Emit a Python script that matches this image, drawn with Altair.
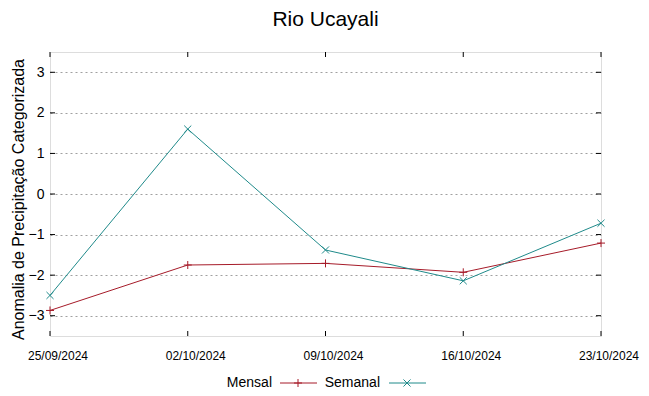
import altair as alt
import pandas as pd

dates = ["25/09/2024", "02/10/2024", "09/10/2024", "16/10/2024", "23/10/2024"]
mensal = [-2.87, -1.75, -1.71, -1.93, -1.21]
semanal = [-2.50, 1.60, -1.38, -2.14, -0.72]
y_ticks = [-3, -2, -1, 0, 1, 2, 3]

RED = "#a61b29"
TEAL = "#1f8a8a"
W, H = 551, 284
FONT = "Liberation Sans"

idx = list(range(len(dates)))
df = pd.DataFrame({"idx": idx * 2,
                   "value": mensal + semanal,
                   "serie": ["Mensal"] * len(dates) + ["Semanal"] * len(dates)})

xs = alt.Scale(domain=[0, len(dates) - 1], nice=False, zero=False)
ys = alt.Scale(domain=[-3.5, 3.5], nice=False, zero=False)

x_enc = alt.X("idx:Q", scale=xs,
              axis=alt.Axis(values=idx, title=None, grid=False, labels=False,
                            ticks=False, domain=False))
y_enc = alt.Y("value:Q", scale=ys,
              axis=alt.Axis(values=y_ticks, title="Anomalia de Precipitação Categorizada",
                            grid=True, gridDash=[2, 3], gridColor="#a0a0a0", gridWidth=1,
                            ticks=False, domain=False, labelPadding=6,
                            labelFont=FONT, labelFontSize=14, labelColor="#000",
                            titleFont=FONT, titleFontSize=16, titleFontWeight="normal",
                            titleColor="#000", titleX=-24, titleY=147, titleAngle=-90,
                            titleBaseline="bottom"))

color = alt.Color("serie:N", scale=alt.Scale(domain=["Mensal", "Semanal"], range=[RED, TEAL]),
                  legend=None)

lines = alt.Chart(df).mark_line(strokeWidth=1).encode(x=x_enc, y=y_enc, color=color)

PLUS = "M-1,0L1,0M0,-1L0,1"
CROSS = "M-1,-1L1,1M-1,1L1,-1"

pts_m = alt.Chart(df[df.serie == "Mensal"]).mark_point(
    shape=PLUS, filled=False, size=64, strokeWidth=1, color=RED, opacity=1
).encode(x="idx:Q", y="value:Q")
pts_s = alt.Chart(df[df.serie == "Semanal"]).mark_point(
    shape=CROSS, filled=False, size=50, strokeWidth=1, color=TEAL, opacity=1
).encode(x="idx:Q", y="value:Q")

# x tick labels (shifted right like the original)
xt = pd.DataFrame({"idx": idx, "lab": dates})
x_labels = alt.Chart(xt).mark_text(
    font=FONT, fontSize=12, color="#000", align="center", baseline="alphabetic", dx=8
).encode(x="idx:Q", y=alt.value(H + 24), text="lab:N")

# inward ticks (mirrored, gnuplot style)
yt = pd.DataFrame({"v": y_ticks})
tick_b = alt.Chart(xt).mark_rule(color="#000", strokeWidth=1).encode(
    x="idx:Q", y=alt.value(H), y2=alt.value(H - 5))
tick_t = alt.Chart(xt).mark_rule(color="#000", strokeWidth=1).encode(
    x="idx:Q", y=alt.value(0), y2=alt.value(5))
tick_l = alt.Chart(yt).mark_rule(color="#000", strokeWidth=1).encode(
    y="v:Q", x=alt.value(0), x2=alt.value(5))
tick_r = alt.Chart(yt).mark_rule(color="#000", strokeWidth=1).encode(
    y="v:Q", x=alt.value(W), x2=alt.value(W - 5))

# legend
leg_y = 331
leg_text_m = alt.Chart(pd.DataFrame({"t": ["Mensal"]})).mark_text(
    align="right", baseline="middle", font=FONT, fontSize=14, color="#000"
).encode(text="t:N", x=alt.value(222), y=alt.value(leg_y))
leg_line_m = alt.Chart(pd.DataFrame({"a": [0]})).mark_rule(color=RED, strokeWidth=1).encode(
    x=alt.value(230), x2=alt.value(267), y=alt.value(leg_y))
leg_pt_m = alt.Chart(pd.DataFrame({"a": [0]})).mark_point(
    shape=PLUS, filled=False, size=64, strokeWidth=1, color=RED, opacity=1
).encode(x=alt.value(248), y=alt.value(leg_y))
leg_text_s = alt.Chart(pd.DataFrame({"t": ["Semanal"]})).mark_text(
    align="right", baseline="middle", font=FONT, fontSize=14, color="#000"
).encode(text="t:N", x=alt.value(330), y=alt.value(leg_y))
leg_line_s = alt.Chart(pd.DataFrame({"a": [0]})).mark_rule(color=TEAL, strokeWidth=1).encode(
    x=alt.value(339), x2=alt.value(376), y=alt.value(leg_y))
leg_pt_s = alt.Chart(pd.DataFrame({"a": [0]})).mark_point(
    shape=CROSS, filled=False, size=50, strokeWidth=1, color=TEAL, opacity=1
).encode(x=alt.value(357), y=alt.value(leg_y))

chart = alt.layer(
    lines, pts_m, pts_s, tick_b, tick_t, tick_l, tick_r, x_labels,
    leg_text_m, leg_line_m, leg_pt_m, leg_text_s, leg_line_s, leg_pt_s
).properties(
    width=W, height=H,
    title=alt.TitleParams("Rio Ucayali", font=FONT, fontSize=21, fontWeight="normal",
                          color="#000", anchor="middle", offset=22),
    autosize="none",
    padding={"left": 42, "top": 44, "right": 40, "bottom": 56},
).configure_view(stroke="#000", strokeWidth=1).configure(background="white")

chart.save("out.html", embed_options={"renderer": "svg", "actions": False})
